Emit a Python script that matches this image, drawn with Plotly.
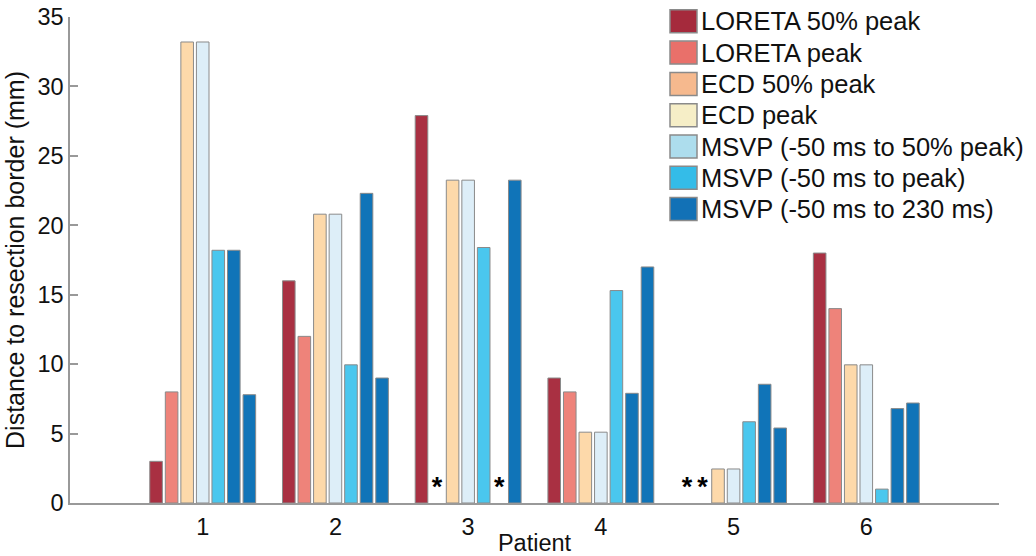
import plotly.graph_objects as go

# ---------------- data ----------------
patients = [1, 2, 3, 4, 5, 6]
patient_labels = ["1", "2", "3", "4", "5", "6"]
series_names = [
    "LORETA 50% peak",
    "LORETA peak",
    "ECD 50% peak",
    "ECD peak",
    "MSVP (-50 ms to 50% peak)",
    "MSVP (-50 ms to peak)",
    "MSVP (-50 ms to 230 ms)",
]
# None = not available (marked with * in the chart)
loreta_50 = [3.0, 16.0, 27.9, 9.0, None, 18.0]
loreta_peak = [8.0, 12.0, None, 8.0, None, 14.0]
ecd_50 = [33.2, 20.8, 23.25, 5.1, 2.45, 9.95]
ecd_peak = [33.2, 20.8, 23.25, 5.1, 2.45, 9.95]
msvp_50 = [18.2, 9.95, 18.4, 15.3, 5.85, 1.0]
msvp_peak = [18.2, 22.3, None, 7.9, 8.55, 6.8]
msvp_230 = [7.8, 9.0, 23.25, 17.0, 5.4, 7.2]
series_values = [loreta_50, loreta_peak, ecd_50, ecd_peak, msvp_50, msvp_peak, msvp_230]
y_ticks = [0, 5, 10, 15, 20, 25, 30, 35]

# ---------------- style ----------------
bar_colors = ["#A93042", "#EE837A", "#FDD9AA", "#DDEEF8", "#4AC7EE", "#1074B8", "#1074B8"]
legend_colors = ["#A52A3C", "#E9706A", "#F6B98E", "#F6EEC7", "#ADDDED", "#34BCE8", "#1271B6"]
FONT = "Liberation Sans, Arial, Helvetica, sans-serif"
BARGAP = 0.18
BARGROUPGAP = 0.19

W, H = 1036, 556
ML, MR, MT, MB = 70, 37, 17, 53
PW, PH = W - ML - MR, H - MT - MB

fig = go.Figure()
n = len(series_names)
slot = (1 - BARGAP) / n
star_x, star_y = [], []
for k, (name, vals) in enumerate(zip(series_names, series_values)):
    fig.add_trace(go.Bar(
        x=patients,
        y=[v if v is not None else 0 for v in vals],
        name=name,
        showlegend=False,
        marker=dict(color=bar_colors[k],
                    line=dict(color="#8A8A8A", width=[1 if v is not None else 0 for v in vals])),
    ))
    for p, v in zip(patients, vals):
        if v is None:
            star_x.append(p + (k - (n - 1) / 2) * slot)
            star_y.append(0)

fig.add_trace(go.Scatter(
    x=star_x, y=star_y, mode="text", text=["*"] * len(star_x),
    textposition="top center", showlegend=False, cliponaxis=False,
    textfont=dict(family=FONT, size=27, color="black", weight="bold"),
))

# manual legend (large swatches as in the reference)
def px2paper(xp, yp):
    return (xp - ML) / PW, (H - MB - yp) / PH

for i, (name, col) in enumerate(zip(series_names, legend_colors)):
    cy = 21.3 + i * 31.3
    x0, y0 = px2paper(670, cy + 11.5)
    x1, y1 = px2paper(697, cy - 11.5)
    fig.add_shape(type="rect", xref="paper", yref="paper", x0=x0, y0=y0, x1=x1, y1=y1,
                  fillcolor=col, line=dict(color="#8A8A8A", width=1.5))
    tx, ty = px2paper(699, cy)
    fig.add_annotation(xref="paper", yref="paper", x=tx, y=ty, text=name, showarrow=False,
                       xanchor="left", yanchor="middle",
                       font=dict(family=FONT, size=25.5, color="#111111"))

fig.update_layout(
    width=W, height=H,
    margin=dict(l=ML, r=MR, t=MT, b=MB, autoexpand=False),
    paper_bgcolor="white", plot_bgcolor="white",
    barmode="group", bargap=BARGAP, bargroupgap=BARGROUPGAP,
    showlegend=False,
    font=dict(family=FONT, color="#111111"),
)
fig.update_xaxes(
    automargin=False,
    range=[0, 7], tickvals=patients, ticktext=patient_labels,
    showline=True, linecolor="#999999", linewidth=1.5, showgrid=False, zeroline=False,
    ticks="", tickfont=dict(size=23.5), ticklabelstandoff=2,
    title=dict(text="Patient", font=dict(size=23.5), standoff=0),
)
fig.update_yaxes(
    automargin=False,
    range=[0, 35], tickvals=y_ticks,
    showline=True, linecolor="#999999", linewidth=1.5, showgrid=False, zeroline=False,
    ticks="inside", ticklen=8, tickcolor="#999999", tickwidth=1.5, tickfont=dict(size=23.5),
    title=dict(text="Distance to resection border (mm)", font=dict(size=25), standoff=6),
)

fig.write_html("out.html")
